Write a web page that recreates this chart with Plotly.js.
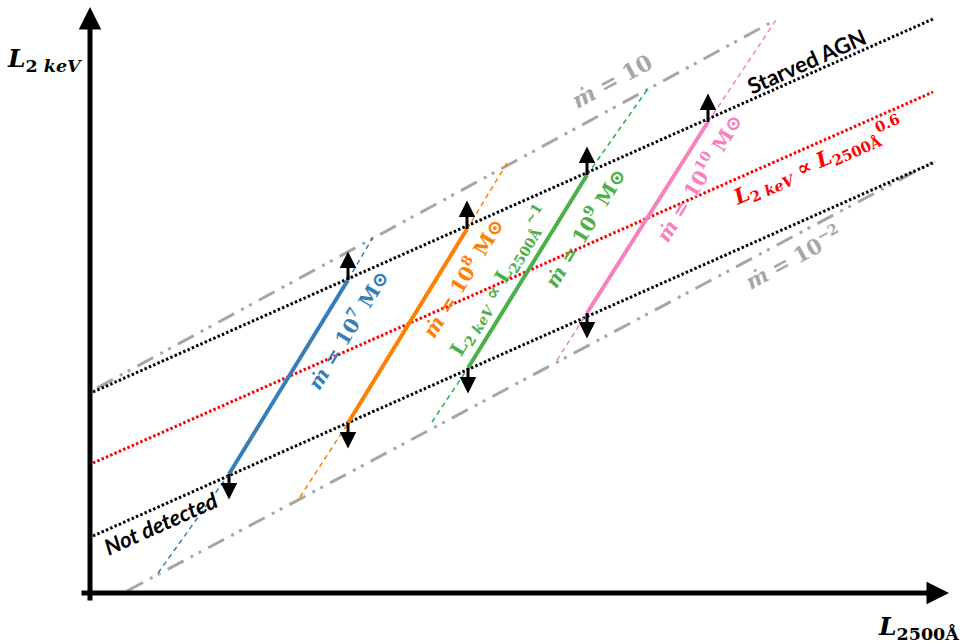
<!DOCTYPE html>
<html>
<head>
<meta charset="utf-8">
<script src="https://cdn.plot.ly/plotly-3.0.1.min.js"></script>
<style>html,body{margin:0;padding:0;background:#fff;}#chart{width:960px;height:643px;}</style>
</head>
<body>
<div id="chart"></div>
<script>
// Schematic units (log L2500Å on x, log L2keV on y), origin at the axes corner
const starvedX = [3, 843];   const starvedY = [201, 574];
const notDetX  = [3, 845];   const notDetY  = [57, 431];
const relX     = [3, 843];   const relY     = [130, 501];
const mdotHiX  = [7, 680];   const mdotHiY  = [205, 570];
const mdotLoX  = [37, 845];  const mdotLoY  = [2, 432];

// Mass tracks: [dashed start, solid start, solid end, dashed end]
const m7X  = [68, 139, 258, 283];   const m7Y  = [20, 119, 313, 356];
const m8X  = [210, 258, 377, 417];  const m8Y  = [96, 170, 364, 430];
const m9X  = [342, 378, 497, 557];  const m9Y  = [171, 225, 418, 503];
const m10X = [467, 497, 618, 686];  const m10Y = [233, 280, 471, 573];

const trackColors  = ['#377eb8', '#ff7f00', '#4daf4a', '#f781bf'];
const dashedColors = ['#377eb8', '#ff7f00', '#1fb04a', '#f781bf'];
const tracks = [[m7X, m7Y], [m8X, m8Y], [m9X, m9Y], [m10X, m10Y]];

const traces = [];
function ln(x, y, color, width, dash) {
  traces.push({x: x, y: y, mode: 'lines', type: 'scatter', hoverinfo: 'skip',
    line: {color: color, width: width, dash: dash}, showlegend: false});
}
ln(mdotHiX, mdotHiY, '#a6a6a6', 3, '18px,8px,3px,6px,3px,8px');
ln(mdotLoX, mdotLoY, '#a6a6a6', 3, '18px,8px,3px,6px,3px,8px');
ln(starvedX, starvedY, '#000000', 3, '2.5px,2.2px');
ln(notDetX, notDetY, '#000000', 3, '2.5px,2.2px');
ln(relX, relY, '#ff0000', 3, '2.5px,2.2px');

tracks.forEach(function (t, i) {
  const X = t[0], Y = t[1];
  ln([X[0], X[1], null, X[2], X[3]], [Y[0], Y[1], null, Y[2], Y[3]], dashedColors[i], 1.5, '5px,4px');
  ln([X[1], X[2]], [Y[1], Y[2]], trackColors[i], 4, 'solid');
});

const ann = [];
// limit arrows at the ends of each solid segment
tracks.forEach(function (t) {
  const X = t[0], Y = t[1];
  ann.push({x: X[2], y: Y[2], xref: 'x', yref: 'y', ax: 0, ay: -30, text: '',
    showarrow: true, arrowside: 'start', startarrowhead: 2, startarrowsize: 1.1,
    arrowwidth: 3, arrowcolor: '#000'});
  ann.push({x: X[1], y: Y[1], xref: 'x', yref: 'y', ax: 0, ay: 27, text: '',
    showarrow: true, arrowside: 'start', startarrowhead: 2, startarrowsize: 1.1,
    arrowwidth: 3, arrowcolor: '#000'});
});
// axes with arrow heads
ann.push({x: 0, y: 586, xref: 'x', yref: 'y', axref: 'x', ayref: 'y', ax: 0, ay: -9,
  text: '', showarrow: true, arrowhead: 2, arrowsize: 0.9, arrowwidth: 5, arrowcolor: '#000'});
ann.push({x: 859, y: 0, xref: 'x', yref: 'y', axref: 'x', ayref: 'y', ax: -10, ay: 0,
  text: '', showarrow: true, arrowhead: 2, arrowsize: 0.9, arrowwidth: 5, arrowcolor: '#000'});

const serif = 'DejaVu Serif, Liberation Serif, serif';
const sans = 'Lato, Open Sans, sans-serif';
function label(x, y, text, color, size, angle, family) {
  ann.push({x: x, y: y, xref: 'x', yref: 'y', text: text, showarrow: false,
    textangle: angle, xanchor: 'center', yanchor: 'middle',
    font: {family: family || serif, size: size, color: color}});
}
label(-45, 533, '<b><i>L</i><sub>2 <i>keV</i></sub></b>', '#000', 25, 0);
label(828, -35, '<b><i>L</i><sub>2500Å</sub></b>', '#000', 25, 0);
label(522, 512, '<b><i>ṁ</i> = 10</b>', '#a6a6a6', 22, -28.5);
label(703, 336, '<b><i>ṁ</i> = 10<sup>−2</sup></b>', '#a6a6a6', 21, -28.5);
label(716, 532, '<b>Starved AGN</b>', '#000', 22, -24, sans);
label(70, 70, '<b><i>Not detected</i></b>', '#000', 22, -24, sans);
label(727, 432, '<b><i>L</i><sub>2 <i>keV</i></sub> ∝ <i>L</i><sub>2500Å</sub><sup>0.6</sup></b>', '#ff0000', 21, -24);
label(257, 263, '<b><i>ṁ</i> = 10<sup>7</sup> M⊙</b>', '#377eb8', 20, -58.6);
label(372, 315, '<b><i>ṁ</i> = 10<sup>8</sup> M⊙</b>', '#ff7f00', 20, -58.6);
label(409, 312, '<b>L<sub>2 <i>keV</i></sub> ∝ L<sub>2500Å</sub><sup>~1</sup></b>', '#4daf4a', 20, -58.6);
label(494, 365, '<b><i>ṁ</i> = 10<sup>9</sup> M⊙</b>', '#4daf4a', 20, -58.6);
label(608, 415, '<b><i>ṁ</i> = 10<sup>10</sup> M⊙</b>', '#f781bf', 20, -58.6);

const layout = {
  width: 960, height: 643,
  margin: {l: 0, r: 0, t: 0, b: 0},
  paper_bgcolor: '#fff', plot_bgcolor: '#fff',
  xaxis: {range: [-90, 870], visible: false, fixedrange: true},
  yaxis: {range: [-50, 593], visible: false, fixedrange: true},
  annotations: ann,
  showlegend: false
};
Plotly.newPlot('chart', traces, layout, {displayModeBar: false, staticPlot: true});
</script>
</body>
</html>
